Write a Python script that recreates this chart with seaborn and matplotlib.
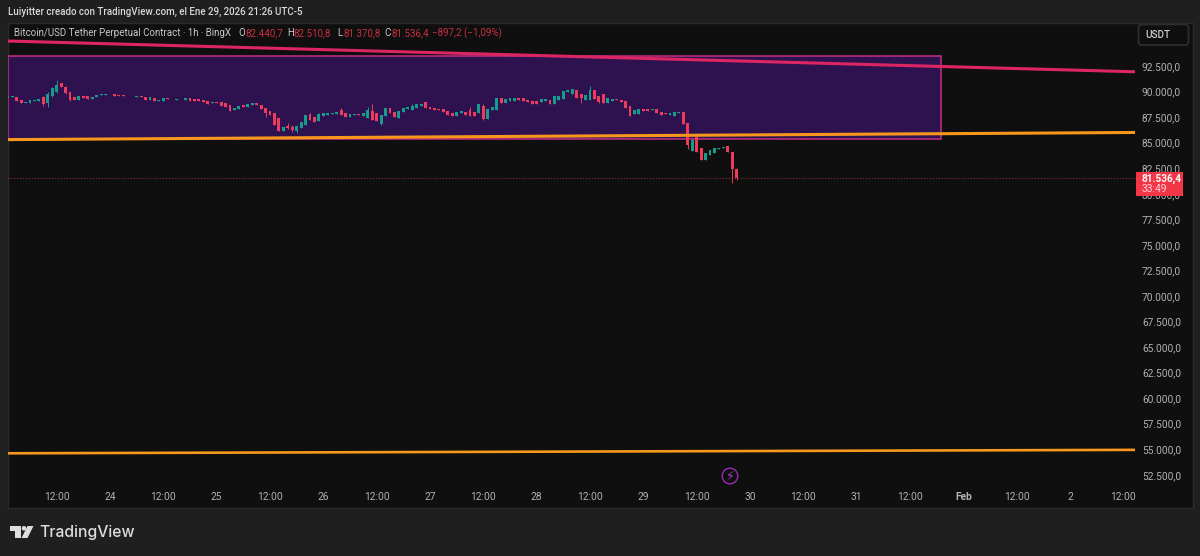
import numpy as np
import pandas as pd
import seaborn as sns
import matplotlib.pyplot as plt
from matplotlib.patches import Rectangle, FancyBboxPatch, Circle, Polygon

# hourly candles, first one is Jan 23 01:00
first_candle = "2026-01-23 01:00"

opens = [
    89510, 89460, 89460, 89220, 88920, 88920, 89070, 89070, 89460, 88870,
    89560, 89950, 90830, 90440, 89950, 89460, 89170, 89610, 89560, 89270,
    89460, 89660, 89710, 89760, 89760, 89710, 89660, 89610, 89560, 89510,
    89560, 89460, 89170, 89410, 89070, 89120, 89360, 89310, 89220, 89270,
    89220, 89410, 89310, 89270, 89170, 89120, 88920, 88970, 88970, 88870,
    88680, 88190, 88290, 88680, 88480, 88680, 88870, 88680, 88380, 88090,
    87890, 87400, 86130, 86620, 86520, 86130, 86420, 86720, 87840, 87550,
    87160, 87600, 87700, 87800, 87800, 88240, 87940, 87500, 87700, 87840,
    87650, 87450, 88140, 87890, 86860, 87600, 88430, 87990, 87450, 87990,
    88330, 88190, 88430, 88580, 88970, 88530, 88430, 88330, 88330, 88140,
    87940, 87650, 87940, 87990, 88240, 88040, 87940, 88580, 87350, 88240,
    88240, 89410, 88920, 89120, 89120, 89360, 89360, 89170, 89120, 89120,
    88970, 89120, 89220, 88820, 89220, 89310, 89950, 89810, 90200, 89760,
    89220, 89220, 90150, 89560, 89760, 88920, 89120, 89310, 89220, 89120,
    88580, 87800, 87840, 88330, 88330, 88190, 88330, 88040, 87940, 87700,
    87650, 87940, 88040, 86960, 84220, 85590, 84510, 83340, 83830, 84020,
    84410, 84460, 84660, 84120, 82440.7,
]
closes = [
    89610, 89560, 89070, 88870, 89020, 89170, 89220, 89270, 88780, 89760,
    90340, 90640, 90440, 89850, 89220, 89170, 89610, 89410, 89270, 89460,
    89660, 89760, 89810, 89810, 89560, 89610, 89610, 89560, 89610, 89560,
    89460, 89170, 89460, 89120, 89170, 89360, 89310, 89270, 89270, 89310,
    89360, 89070, 89070, 89070, 88970, 88780, 88970, 88920, 88580, 88480,
    88090, 88380, 88580, 88480, 88780, 88870, 88680, 88290, 87890, 87700,
    86720, 86130, 86520, 86420, 86230, 86620, 87010, 87700, 87210, 87060,
    87800, 87940, 87890, 87940, 87990, 87700, 87500, 87840, 87840, 87700,
    87940, 88240, 87260, 87160, 87700, 88380, 87890, 87500, 88140, 88380,
    88530, 88630, 88820, 88820, 88430, 88330, 88240, 88190, 88040, 87750,
    87650, 88040, 88140, 87750, 87600, 87600, 88780, 87350, 88330, 88530,
    89410, 88920, 89310, 89360, 89410, 89170, 89120, 88970, 88820, 88780,
    89310, 89310, 88820, 89560, 89610, 90100, 90200, 90290, 89410, 89410,
    89660, 90200, 89310, 88970, 88920, 89410, 89310, 89170, 88970, 88430,
    87650, 88190, 88330, 88140, 88140, 88330, 87940, 87700, 87800, 87940,
    88040, 88040, 86860, 84760, 85300, 84120, 83340, 84020, 84270, 84510,
    84510, 84610, 84120, 82440, 81536.4,
]
# only the candles with a visible wick
wick_highs = {
    8: 89560, 9: 89950, 10: 90440, 11: 91130, 13: 90540, 63: 86910, 64: 86720,
    65: 86720, 68: 87940, 70: 87890, 75: 88380, 81: 88530, 82: 88780, 91: 88780,
    104: 88480, 107: 88780, 131: 90540, 154: 85450, 155: 85750, 164: 82510.8,
}
wick_lows = {
    8: 88580, 9: 88480, 10: 89460, 11: 89850, 13: 89760, 14: 89120, 58: 87500,
    63: 86330, 64: 86030, 65: 85930, 81: 87400, 82: 87210, 84: 86720, 107: 87260,
    108: 87310, 129: 88870, 131: 89170, 133: 88870, 153: 84370, 154: 84170,
    163: 81030, 164: 81370.8,
}

last_price = 81536.4

# drawings on the chart
pink_dates = ["2026-01-23 01:03", "2026-02-02 14:37"]
pink_prices = [94950, 91940]
orange_top_prices = [85300, 86000]
orange_low_prices = [54600, 54937]
box_start = "2026-01-23 01:03"
box_end = "2026-01-31 18:55"
box_top = 93480
box_bottom = 85395

price_ticks = [52500 + 2500 * i for i in range(17)]
time_ticks = pd.date_range("2026-01-23 12:00", "2026-02-02 12:00", freq="12h")
time_labels = ["12:00", "24", "12:00", "25", "12:00", "26", "12:00", "27", "12:00", "28", "12:00",
               "29", "12:00", "30", "12:00", "31", "12:00", "Feb", "12:00", "2", "12:00"]

BG = "#1f1f1f"
PANE = "#0f0f0f"
BORDER = "#2b2b2b"
UP = "#159c8f"
DOWN = "#ee3a5c"
PINK = "#dc2663"
ORANGE = "#f7981d"
GREY = "#b2b2b2"
VAL_RED = "#c9303f"

sns.set_theme(style="dark", rc={"axes.grid": False})
plt.rcParams["font.family"] = ["Roboto", "DejaVu Sans"]

W, H = 1200, 556
fig = plt.figure(figsize=(W / 100, H / 100), dpi=100, facecolor=BG)

# pixel layer under the chart, for the pane
back = fig.add_axes([0, 0, 1, 1], zorder=0)
back.set_xlim(0, W)
back.set_ylim(H, 0)
back.axis("off")
back.add_patch(Rectangle((7.5, 22.5), 1185, 485, facecolor=PANE, edgecolor=BORDER, lw=1))

ax = fig.add_axes([8 / W, (H - 487) / H, 1127 / W, 464 / H], zorder=1)
ax.patch.set_alpha(0)

dates = pd.date_range(first_candle, periods=len(closes), freq="h")
candles = pd.DataFrame({"date": dates, "open": opens, "close": closes})
candles["high"] = [wick_highs.get(i, max(o, c)) for i, (o, c) in enumerate(zip(opens, closes))]
candles["low"] = [wick_lows.get(i, min(o, c)) for i, (o, c) in enumerate(zip(opens, closes))]
candles["color"] = np.where(candles["close"] >= candles["open"], UP, DOWN)

# box first, everything else goes on top
x0, x1 = pd.Timestamp(box_start), pd.Timestamp(box_end)
ax.add_patch(Rectangle((x0, box_bottom), x1 - x0, box_top - box_bottom, facecolor="#2e1250",
                       edgecolor="#c42f82", lw=1.1, zorder=1))

ax.vlines(candles["date"], candles["low"], candles["high"], colors=candles["color"], lw=0.7, zorder=3)
ax.bar(candles["date"], candles["close"] - candles["open"], bottom=candles["open"], width=0.65 / 24,
       color=candles["color"], lw=0, zorder=4)

line_dates = pd.to_datetime(pink_dates)
sns.lineplot(x=line_dates, y=pink_prices, color=PINK, lw=2.2, ax=ax, zorder=5)
sns.lineplot(x=line_dates, y=orange_top_prices, color=ORANGE, lw=2.2, ax=ax, zorder=5)
sns.lineplot(x=line_dates, y=orange_low_prices, color=ORANGE, lw=1.9, ax=ax, zorder=5)
ax.axhline(last_price, color=DOWN, lw=0.7, ls=(0, (1, 2)), alpha=0.7, zorder=2)

ax.set_xlim(pd.Timestamp(pink_dates[0]), pd.Timestamp(pink_dates[1]))
ax.set_ylim(51302, 96714)
ax.set_xticks(time_ticks)
ax.set_xticklabels(time_labels, fontsize=7.4, color=GREY)
for lab in ax.get_xticklabels():
    if lab.get_text() == "Feb":
        lab.set_fontweight("bold")
ax.yaxis.tick_right()
ax.set_yticks(price_ticks)
ax.set_yticklabels([f"{p:,.1f}".replace(",", "X").replace(".", ",").replace("X", ".") for p in price_ticks],
                   fontsize=7.3, color=GREY)
ax.tick_params(axis="both", length=0)
ax.tick_params(axis="x", pad=3.5)
ax.tick_params(axis="y", pad=5)
ax.set_xlabel("")
ax.set_ylabel("")
for s in ax.spines.values():
    s.set_visible(False)

# pixel layer on top: header, price tag, logo
top = fig.add_axes([0, 0, 1, 1], zorder=2)
top.set_xlim(0, W)
top.set_ylim(H, 0)
top.axis("off")
top.patch.set_alpha(0)

top.text(8, 12, "Luiyitter creado con TradingView.com, el Ene 29, 2026 21:26 UTC-5", color="#d8d8d8",
         fontsize=7.0, va="center", fontweight="medium")
top.text(14, 33, "Bitcoin/USD Tether Perpetual Contract · 1h · BingX", color="#c8c8c8", fontsize=7.0, va="center")
for x, letter, x_val, val in [(238, "O", 245, "82.440,7"), (287, "H", 294, "82.510,8"),
                              (337, "L", 343, "81.370,8"), (384, "C", 391, "81.536,4")]:
    top.text(x, 33, letter, color="#c8c8c8", fontsize=7.0, va="center")
    top.text(x_val, 33, val, color=VAL_RED, fontsize=7.0, va="center")
top.text(432, 33, "−897,2 (−1,09%)", color=VAL_RED, fontsize=7.0, va="center")

top.add_patch(FancyBboxPatch((1138.5, 24.5), 50, 20.5, boxstyle="round,pad=0,rounding_size=3",
                             facecolor=PANE, edgecolor="#2e2e2e", lw=1.2))
top.text(1145, 35.5, "USDT", color="#d0d0d0", fontsize=7.2, va="center", fontweight="medium")

top.add_patch(Rectangle((1135.5, 172), 47.5, 24, facecolor="#f23645", edgecolor="none"))
top.text(1141, 178.5, "81.536,4", color="white", fontsize=7.2, va="center", fontweight="bold")
top.text(1141.5, 189.5, "33:49", color="#ffd5da", fontsize=7.4, va="center")

top.add_patch(Circle((730, 476), 7.8, facecolor="none", edgecolor="#9027a8", lw=1.1))
top.text(730, 476, "⚡", color="#b03cd0", fontsize=9, ha="center", va="center", family="DejaVu Sans")

# TradingView mark
top.add_patch(Polygon([(9.5, 526), (20.5, 526), (20.5, 538), (15, 538), (15, 531), (9.5, 531)],
                      facecolor="#dedede", edgecolor="none"))
top.add_patch(Circle((24, 528.3), 2.3, facecolor="#dedede", edgecolor="none"))
top.add_patch(Polygon([(27.5, 526), (33.5, 526), (27.5, 538), (21.5, 538)], facecolor="#dedede", edgecolor="none"))
top.text(39, 532, "TradingView", color="#dedede", fontsize=11.3, va="center", family="Inter", fontweight="medium")

fig.savefig("out.png", dpi=100, facecolor=BG)
